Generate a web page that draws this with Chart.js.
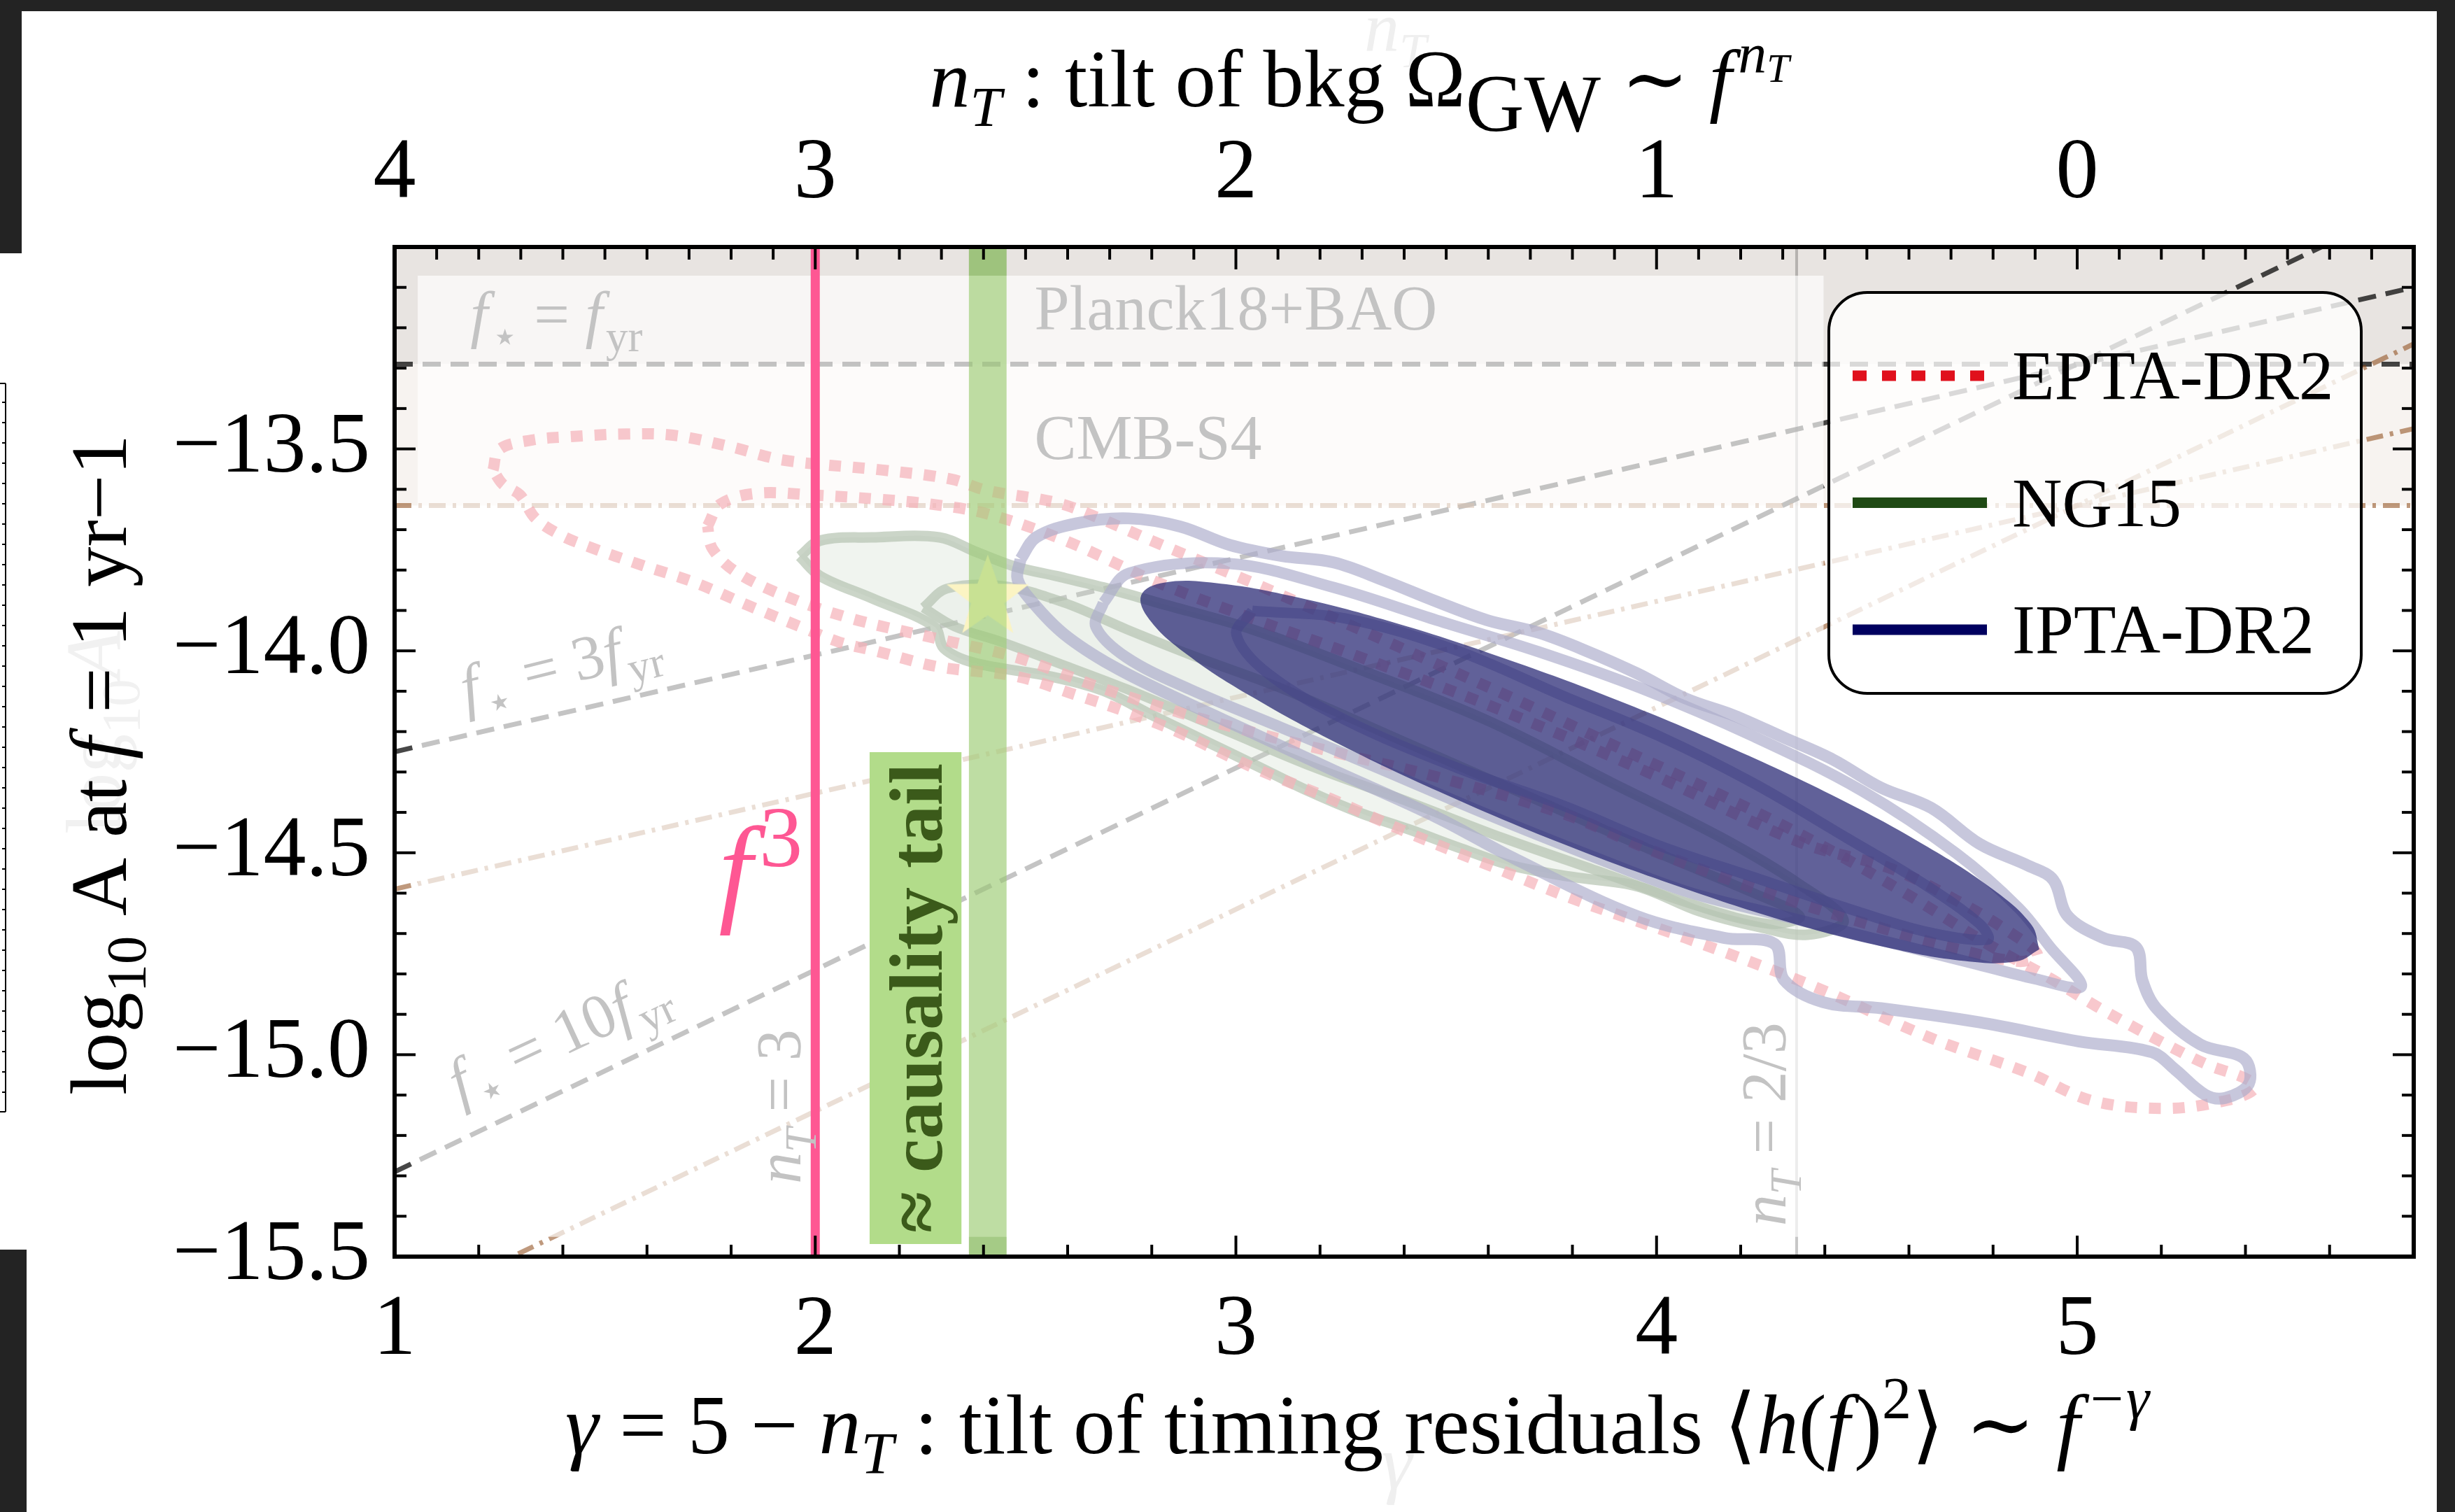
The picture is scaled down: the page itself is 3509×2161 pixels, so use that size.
<!DOCTYPE html>
<html>
<head>
<meta charset="utf-8">
<title>PTA amplitude vs spectral tilt</title>
<script src="https://cdn.jsdelivr.net/npm/chart.js@4.4.1/dist/chart.umd.min.js"></script>
<style>
  html, body { margin: 0; padding: 0; background: #fff; }
  #wrap { position: relative; width: 3509px; height: 2161px; overflow: hidden; }
  .frame { position: absolute; background: #232323; }
</style>
</head>
<body>
<div id="wrap">
  <canvas id="gwChart" width="3509" height="2161"></canvas>
  <div class="frame" style="left:0;top:0;width:3509px;height:16px"></div>
  <div class="frame" style="left:0;top:0;width:31px;height:362px"></div>
  <div class="frame" style="left:0;top:1786px;width:38px;height:375px"></div>
  <div class="frame" style="left:3483px;top:0;width:26px;height:2161px"></div>
</div>
<script>
// ===== axes =====
const xTickValues = [1, 2, 3, 4, 5];
const xTickLabels = ['1', '2', '3', '4', '5'];
const topTickLabels = ['4', '3', '2', '1', '0'];      // n_T = 5 - gamma
const yTickValues = [-15.5, -15.0, -14.5, -14.0, -13.5];
const yTickLabels = ['\u221215.5', '\u221215.0', '\u221214.5', '\u221214.0', '\u221213.5'];

// ===== series names =====
const seriesNames = ['EPTA-DR2', 'NG15', 'IPTA-DR2'];

// ===== BBN / CMB bounds (gamma, log10 A) =====
const planckFyr = [[1, -13.29], [5.8, -13.29]];
const cmbFyr = [[1, -13.64], [5.8, -13.64]];
const planck3fyr = [[1, -14.25], [5.8, -13.10]];
const cmb3fyr = [[1, -14.59], [5.8, -13.45]];
const planck10fyr = [[1, -15.29], [5.8, -12.89]];
const cmb10fyr = [[1, -15.64], [5.8, -13.24]];
const nT23Line = [[4.333, -15.5], [4.333, -13.0]];
const f3Line = [[2, -15.5], [2, -13.0]];
const causalityBand = [[2.365, -15.5], [2.455, -15.5]];
const causalityBox = [[2.129, -15.469], [2.348, -15.469]];
const causalityBoxTop = -14.251;
const starPoint = [[2.41, -13.86]];
const fadeRegion = [[1.055, -13.071], [4.397, -13.071], [4.397, -14.105], [5.68, -14.105],
  [5.68, -15.451], [1.055, -15.451], [1.055, -13.071]];

// ===== posterior contours =====
const eptaOuter = [[1.234,-13.552],[1.249,-13.501],[1.327,-13.478],[1.413,-13.470],[1.551,-13.463],[1.662,-13.466],
  [1.796,-13.494],[1.926,-13.528],[2.157,-13.552],[2.324,-13.575],[2.406,-13.602],[2.574,-13.633],[2.667,-13.668],
  [2.815,-13.734],[3.039,-13.831],[3.262,-13.932],[3.485,-14.036],[3.708,-14.141],[3.931,-14.250],[4.155,-14.358],
  [4.378,-14.474],[4.601,-14.606],[4.787,-14.726],[4.936,-14.811],[5.047,-14.881],[5.196,-14.966],[5.308,-15.024],
  [5.408,-15.063],[5.419,-15.087],[5.352,-15.114],[5.211,-15.133],[5.036,-15.114],[4.884,-15.045],[4.653,-14.959],
  [4.374,-14.831],[4.069,-14.711],[3.801,-14.614],[3.597,-14.529],[3.411,-14.451],[3.225,-14.366],[3.039,-14.288],
  [2.867,-14.203],[2.745,-14.153],[2.622,-14.110],[2.477,-14.063],[2.295,-14.040],[2.146,-14.001],[2.056,-13.978],
  [1.971,-13.943],[1.844,-13.889],[1.714,-13.831],[1.588,-13.788],[1.461,-13.742],[1.398,-13.715],[1.335,-13.672],
  [1.298,-13.614],[1.257,-13.587],[1.234,-13.552]];
const eptaInner = [[1.744,-13.691],[1.774,-13.637],[1.859,-13.610],[1.993,-13.614],[2.157,-13.625],[2.276,-13.637],
  [2.406,-13.660],[2.592,-13.726],[2.815,-13.831],[3.039,-13.920],[3.299,-14.017],[3.597,-14.133],[3.969,-14.296],
  [4.341,-14.474],[4.560,-14.540],[4.713,-14.618],[4.843,-14.699],[4.906,-14.753],[4.861,-14.769],[4.713,-14.738],
  [4.527,-14.684],[4.341,-14.626],[4.155,-14.560],[3.969,-14.486],[3.783,-14.405],[3.477,-14.312],[3.262,-14.258],
  [3.061,-14.207],[2.867,-14.153],[2.667,-14.087],[2.481,-14.017],[2.295,-13.971],[2.086,-13.920],[1.923,-13.862],
  [1.811,-13.804],[1.755,-13.746],[1.744,-13.691]];
const ng15Outer = [[1.963,-13.766],[2.012,-13.727],[2.135,-13.719],[2.295,-13.719],[2.380,-13.754],[2.477,-13.792],
  [2.574,-13.815],[2.685,-13.843],[2.815,-13.881],[3.039,-13.947],[3.299,-14.048],[3.597,-14.172],[3.894,-14.327],
  [4.155,-14.463],[4.341,-14.579],[4.445,-14.668],[4.359,-14.703],[4.244,-14.684],[4.102,-14.645],[3.954,-14.583],
  [3.801,-14.560],[3.660,-14.533],[3.537,-14.490],[3.414,-14.443],[3.295,-14.401],[3.172,-14.347],[3.050,-14.285],
  [2.927,-14.223],[2.804,-14.161],[2.685,-14.099],[2.562,-14.064],[2.376,-14.029],[2.306,-13.994],[2.283,-13.940],
  [2.135,-13.870],[2.012,-13.815],[1.963,-13.766]];
const ng15Inner = [[2.257,-13.893],[2.313,-13.846],[2.443,-13.839],[2.592,-13.881],[2.741,-13.947],[2.890,-14.009],
  [3.113,-14.095],[3.411,-14.230],[3.708,-14.366],[4.006,-14.502],[4.229,-14.599],[4.341,-14.657],[4.266,-14.676],
  [4.080,-14.626],[3.857,-14.544],[3.634,-14.463],[3.411,-14.374],[3.187,-14.289],[2.964,-14.192],[2.741,-14.095],
  [2.592,-14.036],[2.443,-13.978],[2.332,-13.940],[2.257,-13.893]];
const iptaOuter = [[2.488,-13.773],[2.525,-13.719],[2.622,-13.684],[2.745,-13.672],[2.867,-13.692],[2.986,-13.738],
  [3.109,-13.765],[3.232,-13.781],[3.355,-13.827],[3.477,-13.878],[3.597,-13.924],[3.719,-13.955],[3.835,-14.001],
  [3.954,-14.056],[4.069,-14.118],[4.184,-14.160],[4.303,-14.215],[4.419,-14.269],[4.534,-14.339],[4.653,-14.389],
  [4.768,-14.478],[4.884,-14.532],[4.943,-14.567],[4.977,-14.656],[5.062,-14.711],[5.140,-14.734],[5.155,-14.816],
  [5.189,-14.886],[5.293,-14.975],[5.397,-15.010],[5.408,-15.072],[5.352,-15.107],[5.304,-15.099],[5.233,-15.037],
  [5.178,-14.994],[5.003,-14.967],[4.768,-14.920],[4.534,-14.885],[4.396,-14.870],[4.303,-14.815],[4.281,-14.726],
  [4.162,-14.711],[3.954,-14.657],[3.660,-14.513],[3.477,-14.412],[3.232,-14.296],[3.039,-14.203],[2.853,-14.114],
  [2.704,-14.036],[2.592,-13.959],[2.518,-13.881],[2.481,-13.823],[2.488,-13.773]];
const iptaInner = [[2.685,-13.881],[2.745,-13.808],[2.986,-13.784],[3.232,-13.843],[3.477,-13.924],[3.719,-14.002],
  [3.969,-14.095],[4.229,-14.211],[4.489,-14.347],[4.713,-14.502],[4.861,-14.637],[4.936,-14.734],[5.010,-14.831],
  [4.899,-14.812],[4.750,-14.773],[4.527,-14.715],[4.303,-14.657],[4.080,-14.599],[3.857,-14.513],[3.597,-14.405],
  [3.336,-14.289],[3.113,-14.192],[2.890,-14.095],[2.741,-14.017],[2.667,-13.940],[2.685,-13.881]];
const iptaCore = [[3.039,-13.901],[3.262,-13.920],[3.522,-13.998],[3.783,-14.114],[4.006,-14.211],[4.229,-14.327],
  [4.452,-14.463],[4.638,-14.579],[4.768,-14.676],[4.787,-14.715],[4.638,-14.695],[4.452,-14.637],[4.229,-14.560],
  [4.006,-14.482],[3.783,-14.385],[3.522,-14.288],[3.262,-14.172],[3.076,-14.056],[3.001,-13.959],[3.039,-13.901]];
const forecastEllipse = [[4.910,-14.739],[4.856,-14.769],[4.733,-14.768],[4.550,-14.735],[4.318,-14.673],
  [4.054,-14.584],[3.775,-14.477],[3.501,-14.357],[3.251,-14.234],[3.040,-14.115],[2.884,-14.009],[2.794,-13.922],
  [2.775,-13.862],[2.829,-13.831],[2.951,-13.832],[3.135,-13.865],[3.366,-13.927],[3.631,-14.016],[3.909,-14.123],
  [4.183,-14.243],[4.434,-14.366],[4.644,-14.485],[4.800,-14.591],[4.891,-14.678],[4.910,-14.739]];

// ===== styles =====
const serif = '"Liberation Serif", "DejaVu Serif", "Times New Roman", serif';
const paleText = '#c3c3c3';
const eptaColor = '#e0101c', ng15Color = '#1f4a14', iptaColor = '#00005f';

const pts = arr => arr.map(([x, y]) => ({ x, y }));
function lineSet(data, extra) {
  return Object.assign({ data: pts(data), showLine: true, pointRadius: 0, fill: false,
    tension: 0, borderCapStyle: 'butt', borderJoinStyle: 'round' }, extra);
}
const none = 'rgba(0,0,0,0)';
const dashed = { borderColor: 'rgba(0,0,0,0.72)', borderWidth: 7, borderDash: [26, 14], order: 90 };
const dashDot = { borderColor: 'rgba(139,69,19,0.55)', borderWidth: 7, borderDash: [24, 10, 5, 10], order: 89 };

// yellow star marker
const starImg = document.createElement('canvas');
starImg.width = 130; starImg.height = 130;
(function () {
  const c = starImg.getContext('2d');
  c.beginPath();
  for (let k = 0; k < 10; k++) {
    const r = k % 2 === 0 ? 62 : 25;
    const a = -Math.PI / 2 + k * Math.PI / 5;
    const px = 65 + r * Math.cos(a), py = 70 + r * Math.sin(a);
    if (k === 0) c.moveTo(px, py); else c.lineTo(px, py);
  }
  c.closePath();
  c.fillStyle = '#f3dc45';
  c.fill();
})();

// ===== text helpers =====
function drawRich(ctx, parts, x, y, size, o) {
  o = o || {};
  ctx.save();
  ctx.translate(x, y);
  if (o.rot) ctx.rotate(o.rot);
  const bold = o.bold ? 'bold ' : '';
  const fontFor = p => {
    const sc = p.sc || (p.sub || p.sup ? 0.7 : 1);
    return (p.it ? 'italic ' : '') + bold + (size * sc).toFixed(1) + 'px ' + serif;
  };
  const adv = p => ctx.measureText(p.t).width + (p.kern || 0) * size;
  let w = 0;
  parts.forEach(p => { ctx.font = fontFor(p); w += adv(p); });
  let cx = o.align === 'center' ? -w / 2 : o.align === 'right' ? -w : 0;
  ctx.fillStyle = o.color || '#000';
  ctx.textAlign = 'left';
  ctx.textBaseline = 'alphabetic';
  parts.forEach(p => {
    ctx.font = fontFor(p);
    const dy = p.dy !== undefined ? p.dy : p.sub ? 0.24 : p.sup ? -0.42 : 0;
    ctx.fillText(p.t, cx, dy * size + (o.dy || 0));
    cx += adv(p);
  });
  ctx.restore();
}

function roundRectPath(ctx, x, y, w, h, r) {
  ctx.beginPath();
  ctx.moveTo(x + r, y);
  ctx.arcTo(x + w, y, x + w, y + h, r);
  ctx.arcTo(x + w, y + h, x, y + h, r);
  ctx.arcTo(x, y + h, x, y, r);
  ctx.arcTo(x, y, x + w, y, r);
  ctx.closePath();
}

const fstar = [{ t: 'f', it: 1, kern: 0.05 }, { t: '\u22c6', sub: 1 }];
const fyr = [{ t: 'f', it: 1, kern: 0.05 }, { t: 'yr', sub: 1 }];
const paleLabels = [
  { parts: [...fstar, { t: ' = ' }, ...fyr], at: [1.18, -13.22], size: 90, rot: 0 },
  { parts: [{ t: 'Planck18+BAO' }], at: [2.521, -13.204], size: 90, rot: 0 },
  { parts: [{ t: 'CMB-S4' }], at: [2.521, -13.525], size: 90, rot: 0 },
  { parts: [...fstar, { t: ' = 3' }, ...fyr], at: [1.17, -14.145], size: 90, rot: -0.245 },
  { parts: [...fstar, { t: ' = 10' }, ...fyr], at: [1.156, -15.122], size: 90, rot: -0.436 },
  { parts: [{ t: 'n', it: 1 }, { t: 'T', it: 1, sub: 1 }, { t: ' = 3' }], at: [1.965, -15.32], size: 90, rot: -Math.PI / 2 },
  { parts: [{ t: 'n', it: 1 }, { t: 'T', it: 1, sub: 1 }, { t: ' = 2/3' }], at: [4.307, -15.424], size: 90, rot: -Math.PI / 2 }
];

const legendEntries = [
  { label: seriesNames[0], color: eptaColor, dash: [20, 22] },
  { label: seriesNames[1], color: ng15Color },
  { label: seriesNames[2], color: iptaColor }
];

// ===== decorations drawn through the scales =====
const decor = {
  id: 'gwDecor',
  afterDatasetsDraw(chart) {
    const { ctx, scales: { x, y } } = chart;
    const px = v => x.getPixelForValue(v), py = v => y.getPixelForValue(v);

    paleLabels.forEach(l => drawRich(ctx, l.parts, px(l.at[0]), py(l.at[1]), l.size,
      { color: paleText, rot: l.rot }));

    // causality tail caption
    const cx = (px(causalityBox[0][0]) + px(causalityBox[1][0])) / 2;
    const cy = (py(causalityBox[0][1]) + py(causalityBoxTop)) / 2;
    drawRich(ctx, [{ t: '\u2248 causality tail' }], cx, cy, 108,
      { color: '#3b5a1a', bold: true, rot: -Math.PI / 2, align: 'center', dy: 37 });

    // f^3 tag next to the line
    drawRich(ctx, [{ t: 'f', it: 1, kern: 0.06 }, { t: '3', sc: 0.72, dy: -0.36 }], px(1.97), py(-14.641), 172,
      { color: '#fe5793', align: 'right' });

    // legend
    const a = chart.chartArea;
    const bx = a.right - 836, by = a.top + 65, bw = 761, bh = 573;
    ctx.save();
    roundRectPath(ctx, bx, by, bw, bh, 55);
    ctx.fillStyle = 'rgba(255,255,255,0.8)';
    ctx.fill();
    ctx.lineWidth = 4;
    ctx.strokeStyle = '#000';
    ctx.stroke();
    legendEntries.forEach((e, i) => {
      const ly = by + 119 + i * 181.5;
      ctx.beginPath();
      ctx.setLineDash(e.dash || []);
      ctx.lineWidth = 15;
      ctx.lineCap = 'butt';
      ctx.strokeStyle = e.color;
      ctx.moveTo(bx + 34, ly);
      ctx.lineTo(bx + 226, ly);
      ctx.stroke();
      ctx.setLineDash([]);
      drawRich(ctx, [{ t: e.label }], bx + 262, ly + 33, 99, { color: '#000' });
    });
    ctx.restore();
  },
  afterDraw(chart) {
    const { ctx, chartArea: a, scales } = chart;
    ctx.save();
    ctx.strokeStyle = '#000';
    ctx.lineWidth = 4;
    const seg = (x1, y1, x2, y2) => { ctx.beginPath(); ctx.moveTo(x1, y1); ctx.lineTo(x2, y2); ctx.stroke(); };
    // inward ticks
    for (let k = 1; k < 24; k++) {
      const p = scales.x.getPixelForValue(1 + k * 0.2);
      seg(p, a.bottom, p, a.bottom - (k % 5 === 0 ? 30 : 17));
    }
    for (let k = 1; k < 48; k++) {
      const p = scales.x2.getPixelForValue(1 + k * 0.1);
      seg(p, a.top, p, a.top + (k % 10 === 0 ? 32 : 18));
    }
    for (let k = 1; k < 25; k++) {
      const p = scales.y.getPixelForValue(-15.5 + k * 0.1);
      const len = k % 5 === 0 ? 30 : 17;
      seg(a.left, p, a.left + len, p);
      seg(a.right, p, a.right - len, p);
    }
    // frame
    ctx.lineWidth = 6;
    ctx.strokeRect(a.left, a.top, a.right - a.left, a.bottom - a.top);

    // left edge remnant of the neighbouring figure
    ctx.lineWidth = 2;
    seg(8, 548, 8, 1589);
    seg(0, 548, 8, 548);
    seg(0, 1589, 8, 1589);
    for (let yy = 575; yy < 1580; yy += 29) seg(3, yy, 8, yy);
    ctx.restore();

    // faint leftovers
    drawRich(ctx, [{ t: 'n', it: 1 }, { t: 'T', it: 1, sub: 1 }], 1950, 72, 100, { color: '#efefef' });
    drawRich(ctx, [{ t: 'log' }, { t: '10', sub: 1 }, { t: 'A', it: 1 }], 172, 1047, 112,
      { color: '#f1f1f1', rot: -Math.PI / 2, align: 'center' });
    drawRich(ctx, [{ t: '\u03b3', it: 1 }], 1975, 2128, 110, { color: '#efefef' });

    // axis titles
    drawRich(ctx, [{ t: 'n', it: 1 }, { t: 'T', it: 1, sub: 1 }, { t: ' : tilt of bkg \u03a9' },
      { t: 'GW', dy: 0.3 }, { t: ' \u223c ' }, { t: 'f', it: 1, kern: 0.08 }, { t: 'n', it: 1, sup: 1 },
      { t: 'T', it: 1, sc: 0.5, dy: -0.3 }], 1943, 152, 116, { align: 'center' });
    drawRich(ctx, [{ t: '\u03b3', it: 1 }, { t: ' = 5 \u2212 ' }, { t: 'n', it: 1 }, { t: 'T', it: 1, sub: 1 },
      { t: ' : tilt of timing residuals \u27e8' }, { t: 'h', it: 1 }, { t: '(' }, { t: 'f', it: 1, kern: 0.05 }, { t: ')' },
      { t: '2', sup: 1 }, { t: '\u27e9 \u223c ' }, { t: 'f', it: 1, kern: 0.08 }, { t: '\u2212\u03b3', it: 1, sup: 1 }],
      1940, 2077, 120, { align: 'center' });
    drawRich(ctx, [{ t: 'log' }, { t: '10', sub: 1 }, { t: ' A at ' }, { t: 'f', it: 1, kern: 0.05 }, { t: ' = 1 yr\u22121' }],
      180, 1093, 115, { rot: -Math.PI / 2, align: 'center' });
  }
};

// ===== chart =====
const tickFont = { family: serif, size: 122 };
const fixedTicks = vals => scale => { scale.ticks = vals.map(v => ({ value: v })); };

new Chart(document.getElementById('gwChart'), {
  type: 'scatter',
  data: {
    datasets: [
      lineSet(planckFyr, { label: 'Planck18+BAO bound', fill: 'end', backgroundColor: '#e8e4e1',
        borderColor: none, borderWidth: 0, order: 100, clip: 0 }),
      lineSet(cmbFyr, { label: 'CMB-S4 reach', fill: { value: -13.29 }, backgroundColor: '#f7f3f0',
        borderColor: none, borderWidth: 0, order: 99, clip: 0 }),
      lineSet(nT23Line, { label: 'n_T = 2/3', borderColor: 'rgba(0,0,0,0.22)', borderWidth: 4, order: 96 }),
      lineSet(causalityBand, { label: 'causality (under)', fill: 'end', backgroundColor: 'rgba(70,120,40,0.4)',
        borderColor: none, borderWidth: 0, order: 95, clip: 0 }),
      lineSet(planckFyr, Object.assign({ label: 'Planck f*=fyr' }, dashed)),
      lineSet(planck3fyr, Object.assign({ label: 'Planck f*=3fyr' }, dashed)),
      lineSet(planck10fyr, Object.assign({ label: 'Planck f*=10fyr' }, dashed)),
      lineSet(cmbFyr, Object.assign({ label: 'CMB-S4 f*=fyr' }, dashDot)),
      lineSet(cmb3fyr, Object.assign({ label: 'CMB-S4 f*=3fyr' }, dashDot)),
      lineSet(cmb10fyr, Object.assign({ label: 'CMB-S4 f*=10fyr' }, dashDot)),
      lineSet(ng15Outer, { label: seriesNames[1], fill: 'shape', backgroundColor: 'rgba(100,140,90,0.3)',
        borderColor: 'rgba(31,74,20,0.72)', borderWidth: 15, tension: 0.35, order: 80 }),
      lineSet(ng15Inner, { label: seriesNames[1] + ' 1σ', fill: 'shape', backgroundColor: 'rgba(100,140,90,0.12)',
        borderColor: 'rgba(31,74,20,0.72)', borderWidth: 14, tension: 0.35, order: 79 }),
      lineSet(eptaOuter, { label: seriesNames[0], borderColor: 'rgba(224,20,40,0.72)', borderWidth: 16,
        borderDash: [17, 17], tension: 0.35, order: 78 }),
      lineSet(eptaInner, { label: seriesNames[0] + ' 1σ', borderColor: 'rgba(224,20,40,0.72)', borderWidth: 16,
        borderDash: [17, 17], tension: 0.35, order: 77 }),
      lineSet(iptaOuter, { label: seriesNames[2], borderColor: 'rgba(0,0,96,0.68)', borderWidth: 17,
        tension: 0.35, order: 76 }),
      lineSet(iptaInner, { label: seriesNames[2] + ' 1σ', borderColor: 'rgba(0,0,96,0.68)', borderWidth: 16,
        tension: 0.35, order: 75 }),
      lineSet(iptaCore, { label: seriesNames[2] + ' core', borderColor: 'rgba(0,0,96,0.68)', borderWidth: 15,
        tension: 0.35, order: 74 }),
      { label: 'benchmark', data: pts(starPoint), showLine: false, pointStyle: starImg, pointRadius: 40, order: 70 },
      lineSet(fadeRegion, { label: 'fade', fill: 'shape', backgroundColor: 'rgba(255,255,255,0.68)',
        borderColor: none, borderWidth: 0, order: 50, clip: 0 }),
      lineSet(forecastEllipse, { label: 'forecast', fill: 'shape', backgroundColor: 'rgba(30,30,110,0.7)',
        borderColor: none, borderWidth: 0, tension: 0.4, order: 30 }),
      lineSet(causalityBand, { label: 'causality tail', fill: 'end', backgroundColor: 'rgba(150,205,100,0.5)',
        borderColor: none, borderWidth: 0, order: 20, clip: 0 }),
      lineSet(causalityBox, { label: 'causality box', fill: { value: causalityBoxTop }, backgroundColor: '#b2dc8a',
        borderColor: none, borderWidth: 0, order: 15, clip: 0 }),
      lineSet(f3Line, { label: 'f^3', borderColor: '#fe5793', borderWidth: 13, order: 10 })
    ]
  },
  options: {
    responsive: false,
    devicePixelRatio: 1,
    animation: false,
    events: [],
    layout: { padding: 0, autoPadding: false },
    plugins: { legend: { display: false }, tooltip: { enabled: false } },
    scales: {
      x: {
        type: 'linear', position: 'bottom', min: 1, max: 5.8,
        afterBuildTicks: fixedTicks(xTickValues),
        afterFit: s => { s.height = 365; },
        grid: { display: false }, border: { display: false },
        ticks: { font: tickFont, color: '#000', padding: 26, maxRotation: 0, autoSkip: false,
          callback: (v, i) => xTickLabels[i] }
      },
      x2: {
        type: 'linear', position: 'top', min: 1, max: 5.8,
        afterBuildTicks: fixedTicks(xTickValues),
        afterFit: s => { s.height = 353; },
        grid: { display: false }, border: { display: false },
        ticks: { font: tickFont, color: '#000', padding: 22, maxRotation: 0, autoSkip: false,
          callback: (v, i) => topTickLabels[i] }
      },
      y: {
        type: 'linear', position: 'left', min: -15.5, max: -13.0,
        afterBuildTicks: fixedTicks(yTickValues),
        afterFit: s => { s.width = 564; },
        grid: { display: false }, border: { display: false },
        ticks: { font: tickFont, color: '#000', padding: 27, autoSkip: false,
          callback: (v, i) => yTickLabels[i] }
      },
      y2: {
        type: 'linear', position: 'right', min: -15.5, max: -13.0,
        afterFit: s => { s.width = 59; },
        grid: { display: false }, border: { display: false },
        ticks: { display: false }
      }
    }
  },
  plugins: [decor]
});
</script>
</body>
</html>
